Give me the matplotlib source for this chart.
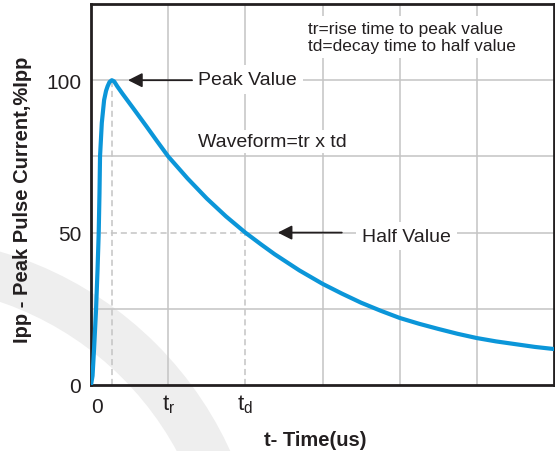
import matplotlib
matplotlib.use("Agg")
import matplotlib.pyplot as plt
from matplotlib.patches import Wedge

# Forma de onda del pulso
t_us = [0, 0.02, 0.04, 0.065, 0.085, 0.10, 0.11, 0.117, 0.14, 0.17, 0.195, 0.215, 0.24,
        0.27, 0.30, 0.34, 0.41, 0.55, 0.72, 0.85, 1.0, 1.25, 1.5, 1.75, 2.0, 2.2,
        2.38, 2.7, 3.0, 3.25, 3.5, 3.75, 4.0, 4.25, 4.5, 4.75, 5.0, 5.25, 5.5, 5.75, 6.0]
ipp_pct = [0, 3, 12, 24.5, 38, 50, 63, 75, 86, 93.5, 96.5, 98, 99.4,
           100, 99.6, 98, 95.5, 90.7, 84.8, 80.2, 75, 67.8, 61.2, 55.3, 50, 46.2,
           42.9, 37.6, 33.2, 30.0, 27.0, 24.4, 22.0, 20.1, 18.4, 16.8, 15.4, 14.3, 13.4, 12.5, 11.8]

x_grid = [1, 2, 3, 4, 5]
y_grid = [25, 50, 75, 100]
x_ticks = [1, 2]
x_tick_labels = [r'$\mathregular{t_r}$', r'$\mathregular{t_d}$']
y_ticks = [0, 50, 100]
y_tick_labels = ['0', '50', '100']

t_peak, i_peak = 0.27, 100
t_half, i_half = 2.0, 50

plt.rcParams['font.family'] = 'Liberation Sans'
ink = '#231f20'
grid_c = '#c4c4c4'

fig = plt.figure(figsize=(5.55, 4.52), dpi=100)
ax = fig.add_axes([91 / 555, 66 / 452, 463 / 555, 381 / 452])
ax.set_facecolor('none')

# marca de agua (arco gris claro)
band = Wedge((-1.02, -1.51), 3.65, 0, 90, width=0.48, transform=fig.dpi_scale_trans,
             facecolor='#eeeeee', edgecolor='none', zorder=-1)
fig.add_artist(band)

# rejilla
for xg in x_grid:
    y0 = i_half if xg == t_half else 0
    ax.plot([xg, xg], [y0, 125], color=grid_c, lw=1.1, zorder=1)
for yg in y_grid:
    x0 = t_half if yg == i_half else 0
    ax.plot([x0, 6], [yg, yg], color=grid_c, lw=1.1, zorder=1)

dash = (0, (4, 2.5))
ax.plot([0, t_half], [i_half, i_half], color=grid_c, lw=1.1, ls=dash, zorder=1)
ax.plot([t_half, t_half], [0, i_half], color=grid_c, lw=1.1, ls=dash, zorder=1)
ax.plot([t_peak, t_peak], [0, i_peak], color=grid_c, lw=1.1, ls=dash, zorder=1)

# curva
ax.plot(t_us, ipp_pct, color='#0b96d9', lw=3, solid_joinstyle='round',
        solid_capstyle='round', zorder=4)

# flechas y textos
arrow_kw = dict(arrowstyle='-|>,head_length=0.85,head_width=0.43', color=ink, lw=1.3,
                shrinkA=0, shrinkB=0, mutation_scale=10)
ax.annotate('', xy=(0.48, i_peak), xytext=(1.31, i_peak), arrowprops=arrow_kw, zorder=5)
ax.annotate('', xy=(2.42, i_half), xytext=(3.25, i_half), arrowprops=arrow_kw, zorder=5)

white = dict(boxstyle='square,pad=0.3', fc='white', ec='none')
ax.text(1.386, 98.7, 'Peak Value', fontsize=14, color=ink, va='baseline', ha='left',
        bbox=white, zorder=3)
ax.text(3.51, 47.4, 'Half Value', fontsize=14, color=ink, va='baseline', ha='left',
        bbox=white, zorder=3)
ax.text(1.386, 78.3, 'Waveform=tr x td', fontsize=14, color=ink, va='baseline', ha='left',
        bbox=dict(boxstyle='square,pad=0.15', fc='white', ec='none'), zorder=3)
ax.text(2.81, 114.1, 'tr=rise time to peak value\ntd=decay time to half value',
        fontsize=12.5, color=ink, va='center', ha='left', linespacing=1.15,
        bbox=white, zorder=3)

# ejes
ax.set_xlim(0, 6)
ax.set_ylim(0, 125)
ax.set_xticks(x_ticks, x_tick_labels)
ax.set_yticks(y_ticks, y_tick_labels)
ax.tick_params(axis='x', length=0, pad=5.5, labelsize=16, labelcolor=ink)
ax.tick_params(axis='y', length=0, pad=7, labelsize=15, labelcolor=ink)
ax.annotate('0', xy=(0, 0), xytext=(4.3, -15.8), textcoords='offset points',
            ha='center', va='center', fontsize=15, color=ink, annotation_clip=False)

ax.set_xlabel('t- Time(us)', fontsize=14.5, fontweight='bold', color=ink, va='center')
ax.xaxis.set_label_coords(0.484, -0.142)
ax.set_ylabel('Ipp - Peak Pulse Current,%Ipp', fontsize=14.5, fontweight='bold',
              color=ink, va='center')
ax.yaxis.set_label_coords(-0.149, 0.488)

for s in ax.spines.values():
    s.set_linewidth(2)
    s.set_color(ink)

fig.savefig('out.png', dpi=100)
plt.close(fig)
